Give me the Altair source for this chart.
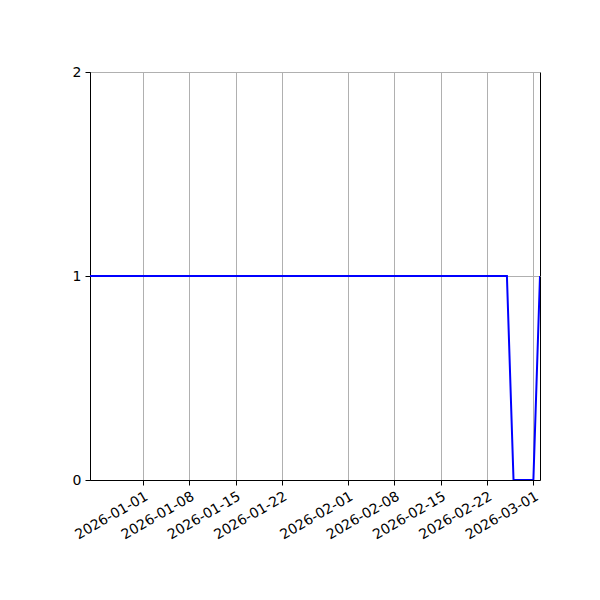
import altair as alt
import pandas as pd

# breakpoints of the series (daily data, constant between these)
dates = ["2025-12-24", "2026-02-25", "2026-02-26", "2026-03-01", "2026-03-02"]
values = [1, 1, 0, 0, 1]

tick_dates = [(2026, 1, 1), (2026, 1, 8), (2026, 1, 15), (2026, 1, 22),
              (2026, 2, 1), (2026, 2, 8), (2026, 2, 15), (2026, 2, 22), (2026, 3, 1)]
y_ticks = [0, 1, 2]

df = pd.DataFrame({"date": dates, "value": values})

x_values = [alt.DateTime(year=y, month=m, date=d, utc=True) for y, m, d in tick_dates]

common = dict(
    labelFont="DejaVu Sans",
    labelFontSize=14,
    labelColor="black",
    domainColor="black",
    domainWidth=1,
    tickColor="black",
    tickSize=5,
    tickWidth=1,
    gridColor="#b0b0b0",
    gridWidth=1,
    labelPadding=4,
    title=None,
    grid=True,
    labelOverlap=False,
)

chart = alt.Chart(df).mark_line(color="#0000ff", strokeWidth=2, clip=True).encode(
    x=alt.X(
        "date:T",
        scale=alt.Scale(
            type="utc",
            domain=[alt.DateTime(year=2025, month=12, date=24, utc=True),
                    alt.DateTime(year=2026, month=3, date=2, utc=True)],
            nice=False,
        ),
        axis=alt.Axis(
            values=x_values,
            labelExpr="utcFormat(datum.value, '%Y-%m-%d')",
            labelAngle=-30,
            labelAlign="right",
            labelBaseline="top",
            labelBound=False,
            labelFlush=False,
            **common,
        ),
    ),
    y=alt.Y(
        "value:Q",
        scale=alt.Scale(domain=[0, 2], nice=False, zero=False),
        axis=alt.Axis(values=y_ticks, labelExpr="format(datum.value, 'd')", **common),
    ),
).properties(
    width=450,
    height=408,
    autosize=alt.AutoSizeParams(type="none"),
    padding={"left": 82, "top": 64, "right": 52, "bottom": 112},
).configure_view(
    stroke="black", strokeWidth=1
)

chart.save("out.html", embed_options={"renderer": "svg", "actions": False})
